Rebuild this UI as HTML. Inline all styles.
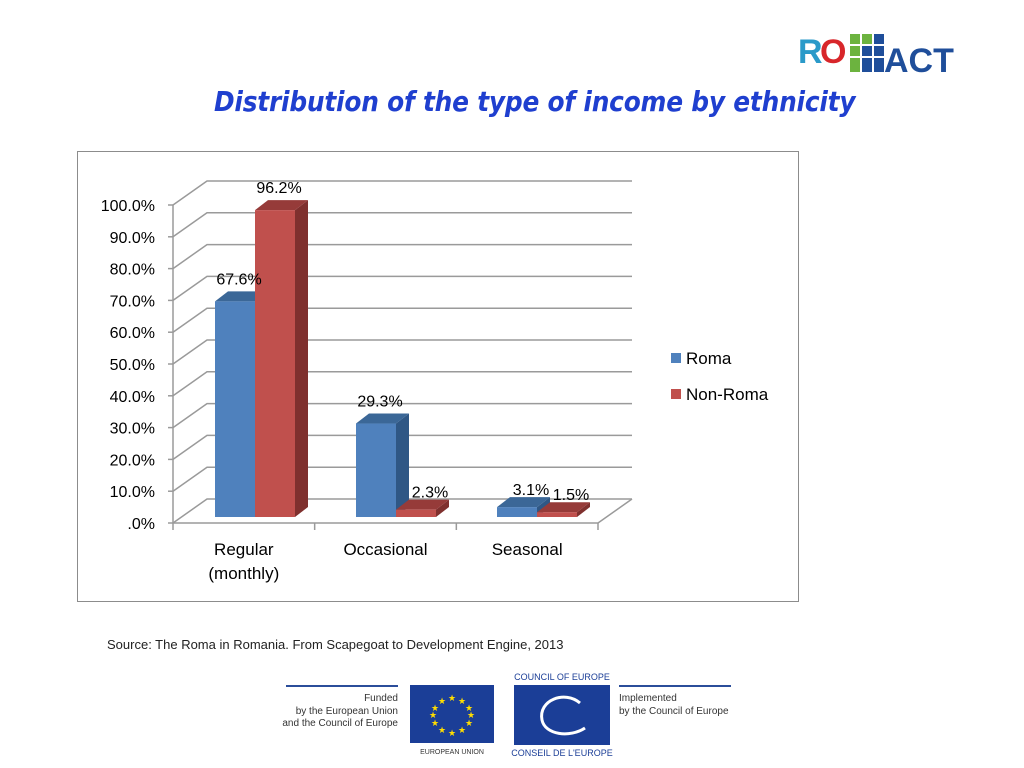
<!DOCTYPE html>
<html><head><meta charset="utf-8"><style>
body{margin:0;width:1024px;height:768px;background:#fff;position:relative;overflow:hidden;font-family:"Liberation Sans",sans-serif}
.t{position:absolute;white-space:nowrap}
</style></head><body>
<div class="t" style="left:214px;top:85px;font-size:27.6px;font-weight:bold;font-style:italic;color:#1f3fcf;font-family:'DejaVu Sans Condensed','Liberation Sans',sans-serif;letter-spacing:-0.2px">Distribution of the type of income by ethnicity</div>
<svg style="position:absolute;left:798px;top:30px" width="172" height="45">
<text x="0" y="33" font-size="34" font-weight="bold" fill="#2a9ac9" font-family="Liberation Sans">R</text>
<text x="22" y="33" font-size="34" font-weight="bold" fill="#d8262a" font-family="Liberation Sans">O</text>
<rect x="52" y="4" width="10" height="10" fill="#6cb33f"/><rect x="52" y="16" width="10" height="10" fill="#6cb33f"/><rect x="52" y="28" width="10" height="14" fill="#6cb33f"/>
<rect x="64" y="4" width="10" height="10" fill="#6cb33f"/><rect x="64" y="16" width="10" height="10" fill="#1f4e9a"/><rect x="64" y="28" width="10" height="14" fill="#1f4e9a"/>
<rect x="76" y="4" width="10" height="10" fill="#1f4e9a"/><rect x="76" y="16" width="10" height="10" fill="#1f4e9a"/><rect x="76" y="28" width="10" height="14" fill="#1f4e9a"/>
<text x="86" y="42" font-size="34" font-weight="bold" fill="#1f4e9a" font-family="Liberation Sans">ACT</text>
</svg>
<div style="position:absolute;left:77px;top:151px;width:720px;height:449px;border:1.5px solid #8c8c8c"></div>
<svg id="ch" style="position:absolute;left:0;top:0" width="1024" height="768"></svg>
<div class="t" style="left:107px;top:637px;font-size:13px;color:#222">Source: The Roma in Romania. From Scapegoat to Development Engine, 2013</div>
<svg style="position:absolute;left:280px;top:670px" width="460" height="90" font-family="Liberation Sans">
<rect x="6" y="15" width="112" height="2" fill="#2b4d9a"/><rect x="339" y="15" width="112" height="2" fill="#2b4d9a"/>
<text x="118" y="31" font-size="10" fill="#333" text-anchor="end">Funded</text>
<text x="118" y="44" font-size="10" fill="#333" text-anchor="end">by the European Union</text>
<text x="118" y="56" font-size="10" fill="#333" text-anchor="end">and the Council of Europe</text>
<rect x="130" y="15" width="84" height="58" fill="#1b3e97"/>
<g fill="#ffdd00" font-size="9" text-anchor="middle">
<text x="172" y="31">★</text><text x="182" y="34">★</text><text x="189" y="41">★</text><text x="191" y="48">★</text><text x="189" y="56">★</text><text x="182" y="63">★</text><text x="172" y="66">★</text><text x="162" y="63">★</text><text x="155" y="56">★</text><text x="153" y="48">★</text><text x="155" y="41">★</text><text x="162" y="34">★</text></g>
<text x="172" y="84" font-size="7" fill="#333" text-anchor="middle">EUROPEAN UNION</text>
<text x="282" y="10" font-size="9" fill="#1b3e97" text-anchor="middle">COUNCIL OF EUROPE</text>
<rect x="234" y="15" width="96" height="60" fill="#1b3e97"/>
<path d="M300 33 C285 20 258 30 262 50 C265 65 290 68 305 58" stroke="#fff" stroke-width="3" fill="none"/>
<text x="282" y="86" font-size="9" fill="#1b3e97" text-anchor="middle">CONSEIL DE L'EUROPE</text>
<text x="339" y="31" font-size="10" fill="#333">Implemented</text>
<text x="339" y="44" font-size="10" fill="#333">by the Council of Europe</text>
</svg>
<script>
const categories=["Regular|(monthly)","Occasional","Seasonal"];
const seriesNames=["Roma","Non-Roma"];
const roma=[67.6,29.3,3.1];
const nonRoma=[96.2,2.3,1.5];
const yTicks=[0,10,20,30,40,50,60,70,80,90,100];
const yTickLabels=[".0%","10.0%","20.0%","30.0%","40.0%","50.0%","60.0%","70.0%","80.0%","90.0%","100.0%"];
const ns="http://www.w3.org/2000/svg";
const svg=document.getElementById('ch');
function mk(t,a,p){const e=document.createElementNS(ns,t);for(const k in a)e.setAttribute(k,a[k]);(p||svg).appendChild(e);return e;}
const fx0=173,fy0=523,bx0=207,by0=499,bx1=632,fx1=598;
const step=31.8;
function yF(v){return fy0-v/10*step;}
function yB(v){return by0-v/10*step;}
function yBar(v){return 517-v*3.19;}
const grid=mk('g',{});
yTicks.forEach((v,i)=>{
 const l=mk('polyline',{points:`${fx0},${yF(v)} ${bx0},${yB(v)} ${bx1},${yB(v)}`,fill:'none',stroke:'#9a9a9a','stroke-width':1.5},grid);
 
 mk('line',{x1:fx0-5,x2:fx0,y1:yF(v),y2:yF(v),stroke:'#9a9a9a','stroke-width':1.5},grid);
 const t=mk('text',{x:155,y:yF(v)+6,'text-anchor':'end','font-size':16,fill:'#000','font-family':'Liberation Sans'});
 t.textContent=yTickLabels[i];
});
mk('line',{x1:fx0,x2:fx0,y1:yF(100),y2:fy0,stroke:'#9a9a9a','stroke-width':1.5});
mk('polyline',{points:`${fx0},${fy0} ${fx1},${fy0} ${bx1},${by0}`,fill:'none',stroke:'#9a9a9a','stroke-width':1.5});
[0,1,2,3].forEach(i=>{const x=fx0+i*(fx1-fx0)/3;mk('line',{x1:x,x2:x,y1:fy0,y2:fy0+7,stroke:'#9a9a9a','stroke-width':1.5});});
const cols=[["#4f81bd","#3b6797","#2f5785"],["#c0504d","#963b39","#7f302e"]];
const dx=13,dy=10,bw=40,gw=141;
function bar(x,v,c,name){
 const top=yBar(v),bot=517;const g=mk('g',{});
 mk('polygon',{points:`${x+bw},${top} ${x+bw+dx},${top-dy} ${x+bw+dx},${bot-dy} ${x+bw},${bot}`,fill:c[2]},g);
 mk('polygon',{points:`${x},${top} ${x+dx},${top-dy} ${x+bw+dx},${top-dy} ${x+bw},${top}`,fill:c[1]},g);
 mk('rect',{x:x,y:top,width:bw,height:bot-top,fill:c[0]},g);
}
categories.forEach((c,i)=>{
 const x=215+i*gw;
 bar(x,roma[i],cols[0],'bar-roma-'+i);
 bar(x+bw,nonRoma[i],cols[1],'bar-nonroma-'+i);
 [[roma[i],x+4],[nonRoma[i],x+bw+4]].forEach(([v,xx])=>{
  const t=mk('text',{x:xx+bw/2+(v<5?10:0),y:yBar(v)-17+(v<5?5:0),'text-anchor':'middle','font-size':16,fill:'#000','font-family':'Liberation Sans'});
  t.textContent=v.toFixed(1)+'%';
 });
 c.split('|').forEach((s,j)=>{
  const t=mk('text',{x:fx0+(i+0.5)*(fx1-fx0)/3,y:555+j*24,'text-anchor':'middle','font-size':17,fill:'#000','font-family':'Liberation Sans'});
  t.textContent=s;
 });
});
seriesNames.forEach((n,i)=>{
 const g=mk('g',{});
 mk('rect',{x:671,y:353+i*36,width:10,height:10,fill:cols[i][0]},g);
 const t=mk('text',{x:686,y:364+i*36,'font-size':17,fill:'#000','font-family':'Liberation Sans'},g);t.textContent=n;
});
</script>
</body></html>
